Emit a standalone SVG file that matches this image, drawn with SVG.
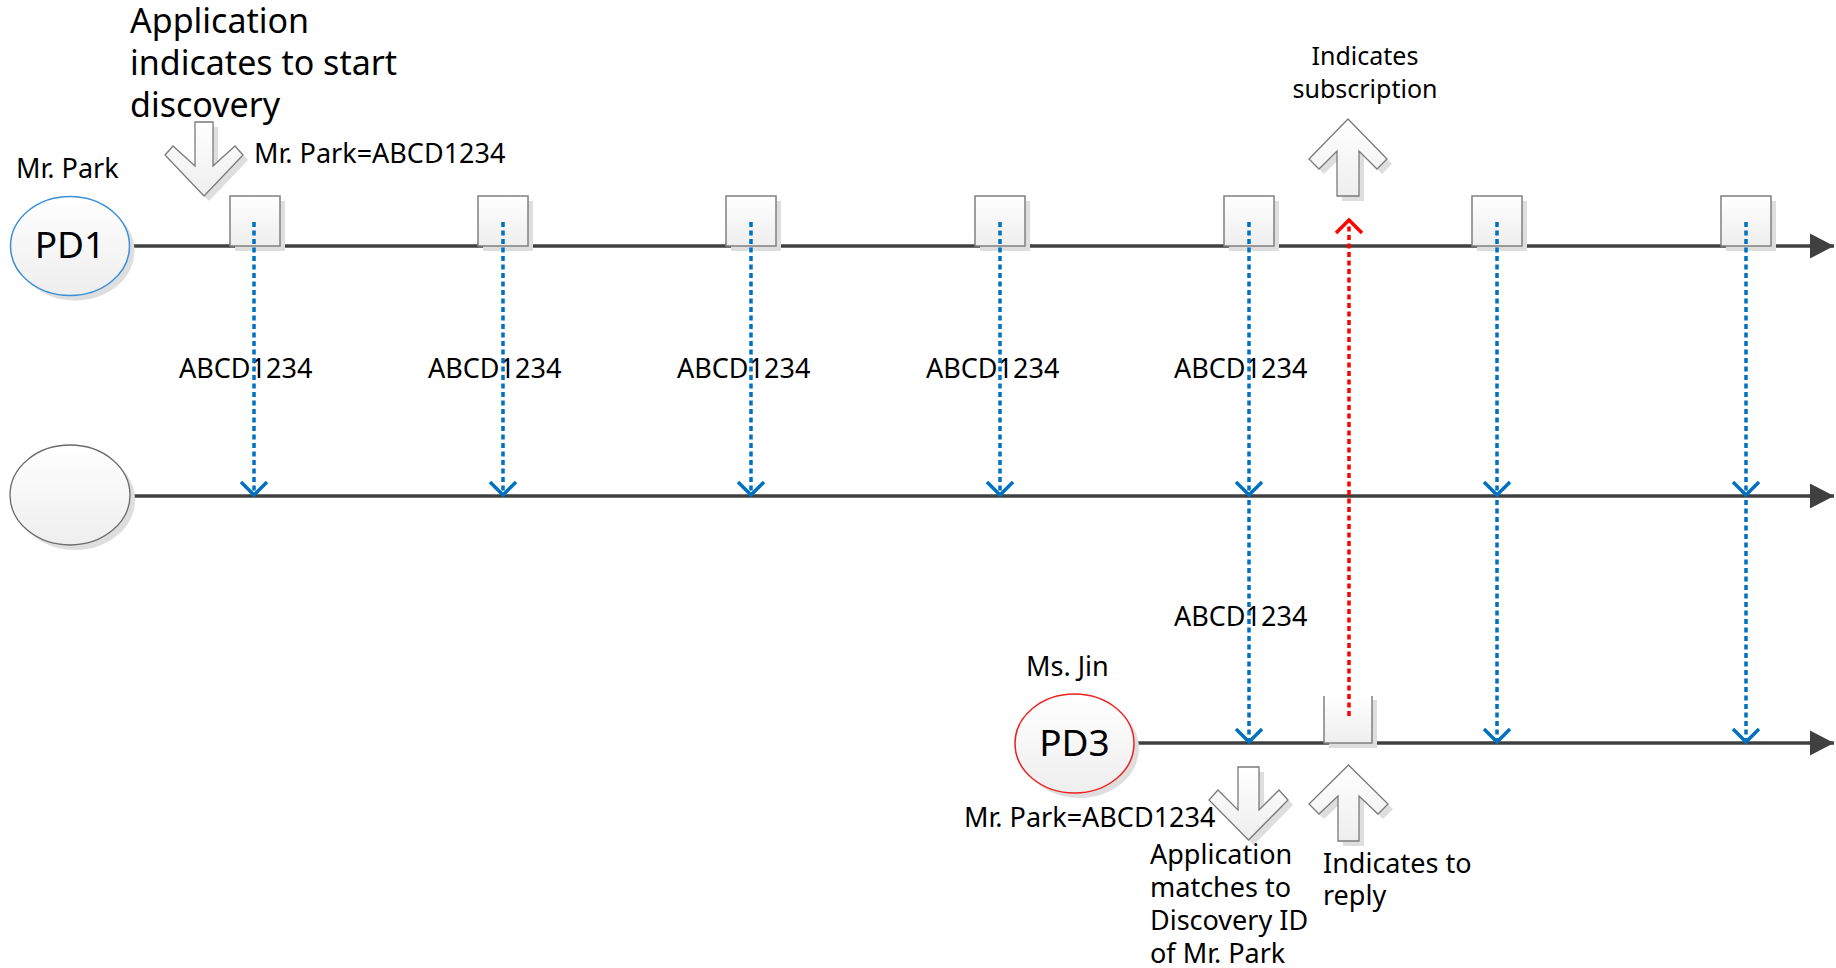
<svg xmlns="http://www.w3.org/2000/svg" width="1836" height="968" viewBox="0 0 1836 968">
<style>
text{font-family:"Noto Sans","Liberation Sans",sans-serif;fill:#000}
.lbl{font-size:27px}
.big{font-size:34px}
.pd{font-size:37px}
.tl{stroke:#404040;stroke-width:3.5;fill:none}
.box{fill:url(#gbox);stroke:#808080;stroke-width:1.5}
.shd{fill:#dedede;stroke:none}
.blk{fill:url(#gbox);stroke:#7a7a7a;stroke-width:1.3}
.bd{stroke:#0070C0;stroke-width:3.5;stroke-dasharray:5 3.5;fill:none}
.rd{stroke:#FF0000;stroke-width:3.5;stroke-dasharray:5 3.5;fill:none}
</style>
<defs>
<linearGradient id="gbox" x1="0" y1="0" x2="0" y2="1">
<stop offset="0" stop-color="#ffffff"/>
<stop offset="1" stop-color="#eeeeee"/>
</linearGradient>
<marker id="endT" viewBox="-26 -14 28 28" refX="0" refY="0" markerWidth="28" markerHeight="28" markerUnits="userSpaceOnUse" orient="auto">
<path d="M-24,-12.5 L0,0 L-24,12.5 Z" fill="#404040" stroke="none"/>
</marker>
<marker id="bh" viewBox="-16 -16 20 32" refX="0" refY="0" markerWidth="20" markerHeight="32" markerUnits="userSpaceOnUse" orient="auto">
<path d="M-13,-13 L0,0 L-13,13" fill="none" stroke="#0070C0" stroke-width="3.5" stroke-dasharray="none"/>
</marker>
<marker id="rh" viewBox="-16 -16 20 32" refX="0" refY="0" markerWidth="20" markerHeight="32" markerUnits="userSpaceOnUse" orient="auto">
<path d="M-13,-13 L0,0 L-13,13" fill="none" stroke="#FF0000" stroke-width="3.5" stroke-dasharray="none"/>
</marker>
<path id="arDownTop" d="M195,122 H213 V166 L235,146 L243,155 L204,196 L165,155 L173,146 L195,166 Z"/>
<path id="arUpTop" d="M1348,119 L1387,159 L1377,169 L1359,151 V196 H1337 V151 L1319,169 L1309,159 Z"/>
<path id="arDownLow" d="M1238,767 H1259 V810 L1279,790 L1288,800 L1248.5,840 L1209,800 L1218,790 L1238,810 Z"/>
<path id="arUpLow" d="M1348.5,765 L1388,804 L1378,814 L1359,796 V841 H1338 V796 L1319,814 L1309,804 Z"/>
</defs>
<rect width="1836" height="968" fill="#ffffff"/>

<!-- timelines -->
<g id="timelines">
<line class="tl" x1="129" y1="246" x2="1834" y2="246" marker-end="url(#endT)"/>
<line class="tl" x1="130" y1="496" x2="1834" y2="496" marker-end="url(#endT)"/>
<line class="tl" x1="1134" y1="743" x2="1834" y2="743" marker-end="url(#endT)"/>
</g>

<!-- devices -->
<g id="pd1">
<ellipse class="shd" cx="75" cy="251" rx="59.5" ry="49.5"/>
<ellipse cx="70" cy="246" rx="59.5" ry="49.5" fill="url(#gbox)" stroke="#3a8fd6" stroke-width="1.5"/>
<text class="pd" x="70" y="258" text-anchor="middle">PD1</text>
<text class="lbl" x="16" y="178">Mr. Park</text>
</g>
<g id="pd2">
<ellipse class="shd" cx="75" cy="500" rx="60" ry="50"/>
<ellipse cx="70" cy="495" rx="60" ry="50" fill="url(#gbox)" stroke="#6a6a6a" stroke-width="1.3"/>
</g>
<g id="pd3">
<ellipse class="shd" cx="1079.5" cy="748.5" rx="59.5" ry="49.5"/>
<ellipse cx="1074.5" cy="743.5" rx="59.5" ry="49.5" fill="url(#gbox)" stroke="#ee2222" stroke-width="1.5"/>
<text class="pd" x="1074.5" y="756" text-anchor="middle">PD3</text>
<text class="lbl" x="1026" y="676">Ms. Jin</text>
</g>

<!-- transmission boxes -->
<g id="tx1"><rect class="shd" x="235" y="201" width="50" height="50"/><rect class="box" x="230" y="196" width="50" height="50"/></g>
<g id="tx2"><rect class="shd" x="483" y="201" width="50" height="50"/><rect class="box" x="478" y="196" width="50" height="50"/></g>
<g id="tx3"><rect class="shd" x="731" y="201" width="50" height="50"/><rect class="box" x="726" y="196" width="50" height="50"/></g>
<g id="tx4"><rect class="shd" x="980" y="201" width="50" height="50"/><rect class="box" x="975" y="196" width="50" height="50"/></g>
<g id="tx5"><rect class="shd" x="1229" y="201" width="50" height="50"/><rect class="box" x="1224" y="196" width="50" height="50"/></g>
<g id="tx6"><rect class="shd" x="1477" y="201" width="50" height="50"/><rect class="box" x="1472" y="196" width="50" height="50"/></g>
<g id="tx7"><rect class="shd" x="1726" y="201" width="50" height="50"/><rect class="box" x="1721" y="196" width="50" height="50"/></g>
<g id="tx8">
<rect class="shd" x="1329" y="700" width="48" height="48"/>
<rect x="1324" y="696" width="48" height="47" fill="url(#gbox)" stroke="none"/>
<path d="M1324,696 V743 H1372 V696" fill="none" stroke="#808080" stroke-width="1.5"/>
</g>

<!-- block arrows -->
<g id="start-discovery">
<use href="#arDownTop" class="shd" transform="translate(5,5)"/>
<use href="#arDownTop" class="blk"/>
<text class="big" x="130" y="33">Application</text>
<text class="big" x="130" y="75">indicates to start</text>
<text class="big" x="130" y="117">discovery</text>
<text class="lbl" x="254" y="163">Mr. Park=ABCD1234</text>
</g>
<g id="subscription">
<use href="#arUpTop" class="shd" transform="translate(5,5)"/>
<use href="#arUpTop" class="blk"/>
<text x="1365" y="65" text-anchor="middle" style="font-size:25px">Indicates</text>
<text x="1365" y="98" text-anchor="middle" style="font-size:25px">subscription</text>
</g>
<g id="match">
<use href="#arDownLow" class="shd" transform="translate(5,5)"/>
<use href="#arDownLow" class="blk"/>
<text class="lbl" x="964" y="827">Mr. Park=ABCD1234</text>
<text class="lbl" x="1150" y="864">Application</text>
<text class="lbl" x="1150" y="897">matches to</text>
<text class="lbl" x="1150" y="930">Discovery ID</text>
<text class="lbl" x="1150" y="963">of Mr. Park</text>
</g>
<g id="reply">
<use href="#arUpLow" class="shd" transform="translate(5,5)"/>
<use href="#arUpLow" class="blk"/>
<text class="lbl" x="1323" y="873">Indicates to</text>
<text class="lbl" x="1323" y="905">reply</text>
</g>

<!-- connector labels -->
<g id="labels">
<text class="lbl" x="179" y="378">ABCD1234</text>
<text class="lbl" x="428" y="378">ABCD1234</text>
<text class="lbl" x="677" y="378">ABCD1234</text>
<text class="lbl" x="926" y="378">ABCD1234</text>
<text class="lbl" x="1174" y="378">ABCD1234</text>
<text class="lbl" x="1174" y="626">ABCD1234</text>
</g>

<!-- connectors -->
<g id="connectors">
<line class="bd" x1="254" y1="222" x2="254" y2="495" marker-end="url(#bh)"/>
<line class="bd" x1="503" y1="222" x2="503" y2="495" marker-end="url(#bh)"/>
<line class="bd" x1="751" y1="222" x2="751" y2="495" marker-end="url(#bh)"/>
<line class="bd" x1="1000" y1="222" x2="1000" y2="495" marker-end="url(#bh)"/>
<line class="bd" x1="1249" y1="222" x2="1249" y2="495" marker-end="url(#bh)"/>
<line class="bd" x1="1497" y1="222" x2="1497" y2="495" marker-end="url(#bh)"/>
<line class="bd" x1="1746" y1="222" x2="1746" y2="495" marker-end="url(#bh)"/>
<line class="bd" x1="1249" y1="500" x2="1249" y2="742" marker-end="url(#bh)"/>
<line class="bd" x1="1497" y1="500" x2="1497" y2="742" marker-end="url(#bh)"/>
<line class="bd" x1="1746" y1="500" x2="1746" y2="742" marker-end="url(#bh)"/>
<line class="rd" x1="1349" y1="716" x2="1349" y2="220" marker-end="url(#rh)"/>
</g>
</svg>
